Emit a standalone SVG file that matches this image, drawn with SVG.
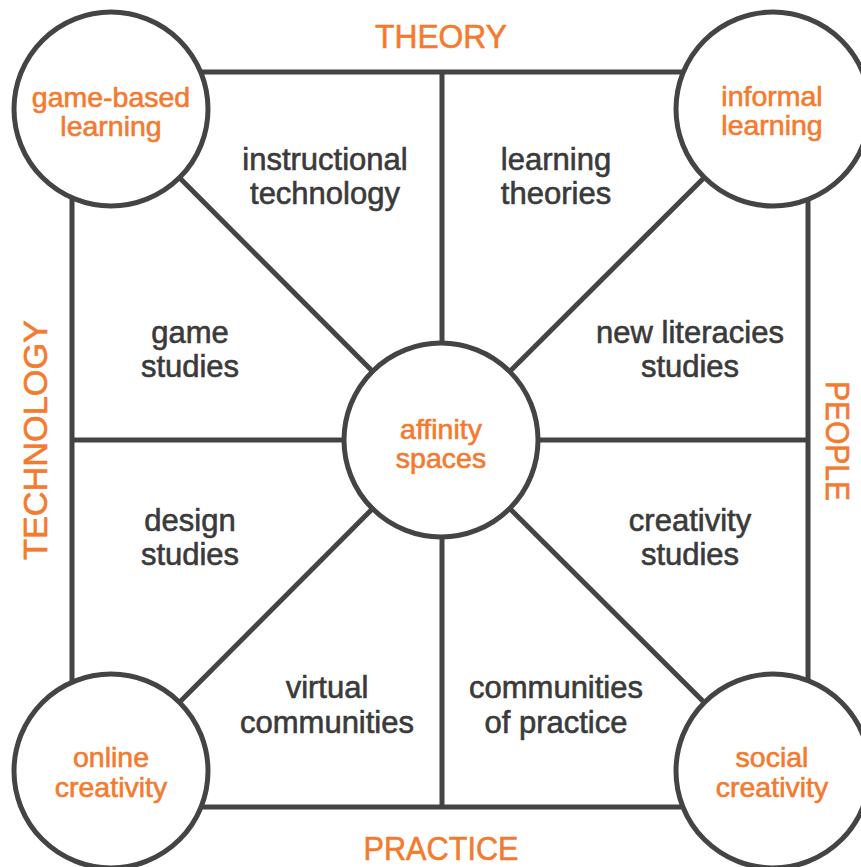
<svg xmlns="http://www.w3.org/2000/svg" width="861" height="867" viewBox="0 0 861 867">
<style>
.ln{stroke:#444;stroke-width:5;fill:none;stroke-linecap:butt}
.nd{fill:#fff;stroke:#444;stroke-width:5}
.or{fill:#F37A2E;stroke:#F37A2E;stroke-width:0.6;font-family:"Liberation Sans",Arial,sans-serif;font-size:28.5px;text-anchor:middle}
.dk{fill:#3a3a3a;stroke:#3a3a3a;stroke-width:0.6;font-family:"Liberation Sans",Arial,sans-serif;font-size:31px;text-anchor:middle}
.hd{fill:#F37A2E;stroke:#F37A2E;stroke-width:0.6;font-family:"Liberation Sans",Arial,sans-serif;font-size:34px;text-anchor:middle}
</style>
<rect width="861" height="867" fill="#fff"/>
<g id="connectors">
<line class="ln" x1="111" y1="72" x2="773" y2="72"/>
<line class="ln" x1="111" y1="807" x2="773" y2="807"/>
<line class="ln" x1="72" y1="109" x2="72" y2="771"/>
<line class="ln" x1="808" y1="109" x2="808" y2="771"/>
<line class="ln" x1="442" y1="72" x2="442" y2="807"/>
<line class="ln" x1="72" y1="440" x2="808" y2="440"/>
<line class="ln" x1="111" y1="109" x2="441" y2="440"/>
<line class="ln" x1="773" y1="109" x2="441" y2="440"/>
<line class="ln" x1="111" y1="771" x2="441" y2="440"/>
<line class="ln" x1="773" y1="771" x2="441" y2="440"/>
</g>
<g id="node-game-based-learning">
<circle class="nd" cx="111" cy="109" r="97"/>
<text class="or" x="111" y="107">game-based</text>
<text class="or" x="111" y="136">learning</text>
</g>
<g id="node-informal-learning">
<circle class="nd" cx="773" cy="109" r="97"/>
<text class="or" x="772" y="106">informal</text>
<text class="or" x="772" y="135">learning</text>
</g>
<g id="node-online-creativity">
<circle class="nd" cx="111" cy="771" r="97"/>
<text class="or" x="111" y="767">online</text>
<text class="or" x="111" y="797">creativity</text>
</g>
<g id="node-social-creativity">
<circle class="nd" cx="773" cy="771" r="97"/>
<text class="or" x="772" y="767">social</text>
<text class="or" x="772" y="797">creativity</text>
</g>
<g id="node-affinity-spaces">
<circle class="nd" cx="441" cy="440" r="97"/>
<text class="or" x="441" y="439">affinity</text>
<text class="or" x="441" y="468">spaces</text>
</g>
<g id="labels">
<text class="dk" x="325" y="170">instructional</text>
<text class="dk" x="325" y="204">technology</text>
<text class="dk" x="556" y="170">learning</text>
<text class="dk" x="556" y="204">theories</text>
<text class="dk" x="190" y="343">game</text>
<text class="dk" x="190" y="377">studies</text>
<text class="dk" x="690" y="343">new literacies</text>
<text class="dk" x="690" y="377">studies</text>
<text class="dk" x="190" y="531">design</text>
<text class="dk" x="190" y="565">studies</text>
<text class="dk" x="690" y="531">creativity</text>
<text class="dk" x="690" y="565">studies</text>
<text class="dk" x="327" y="698">virtual</text>
<text class="dk" x="327" y="733">communities</text>
<text class="dk" x="556" y="698">communities</text>
<text class="dk" x="556" y="733">of practice</text>
</g>
<g id="headings">
<text class="hd" x="441" y="48" textLength="132" lengthAdjust="spacingAndGlyphs">THEORY</text>
<text class="hd" x="441" y="860" textLength="155" lengthAdjust="spacingAndGlyphs">PRACTICE</text>
<text class="hd" transform="translate(47 440) rotate(-90)" x="0" y="0" textLength="240" lengthAdjust="spacingAndGlyphs">TECHNOLOGY</text>
<text class="hd" transform="translate(826 441) rotate(90)" x="0" y="0" textLength="120" lengthAdjust="spacingAndGlyphs">PEOPLE</text>
</g>
</svg>
